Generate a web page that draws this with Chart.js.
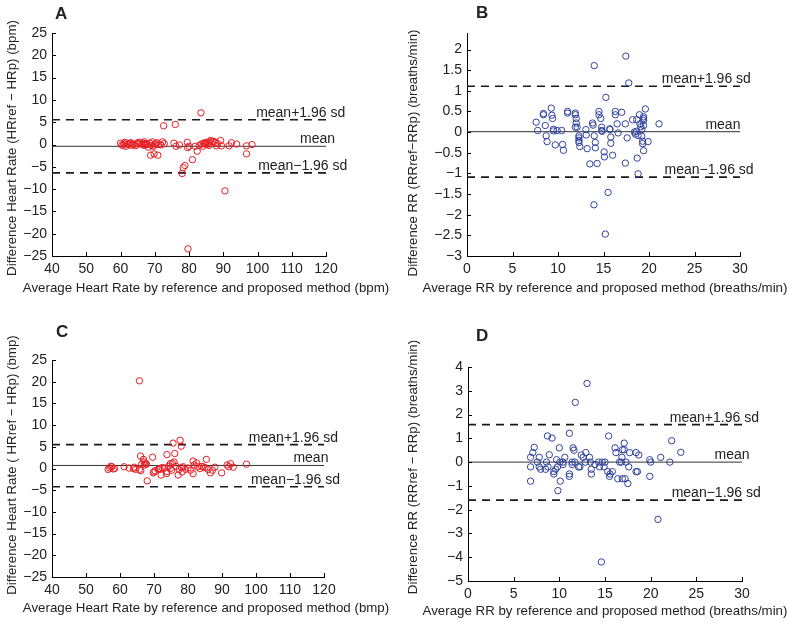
<!DOCTYPE html>
<html>
<head>
<meta charset="utf-8">
<script src="https://cdn.jsdelivr.net/npm/chart.js@4.4.0/dist/chart.umd.min.js"></script>
<style>
html, body { margin: 0; padding: 0; background: #fff; }
#wrap { position: relative; width: 796px; height: 622px; }
#wrap canvas { position: absolute; }
</style>
</head>
<body>
<div id="wrap">
  <canvas id="chartA" width="398" height="311" style="left:0;top:0"></canvas>
  <canvas id="chartB" width="398" height="311" style="left:398px;top:0"></canvas>
  <canvas id="chartC" width="398" height="311" style="left:0;top:311px"></canvas>
  <canvas id="chartD" width="398" height="311" style="left:398px;top:311px"></canvas>
</div>
<script>
var FONT = '"Liberation Sans", Arial, Helvetica, sans-serif';

// A: heart rate, [average, difference]
var hrPointsA = [[60.0,0.3],[60.4,-0.1],[60.8,-0.2],[61.0,0.2],[61.3,0.5],[61.6,-0.4],[62.0,0.1],[62.4,0.0],[62.8,0.3],[63.0,0.4],
  [63.2,-0.2],[63.6,0.1],[64.0,0.0],[64.4,-0.3],[64.8,0.2],[65.0,0.2],[65.3,0.5],[65.8,0.4],[66.2,0.0],[66.6,0.3],
  [66.9,0.6],[67.0,-0.2],[67.2,0.0],[67.4,0.2],[67.8,0.0],[68.2,-0.6],[68.6,0.3],[68.8,-2.4],[69.0,-0.2],[69.3,0.6],
  [69.6,-0.4],[69.8,-2.1],[70.0,-0.1],[70.2,0.2],[70.6,0.4],[70.9,-2.4],[71.2,0.0],[71.8,-0.1],[72.3,0.6],[72.6,4.2],
  [72.8,0.2],[75.6,0.3],[76.0,4.5],[76.2,-0.4],[77.2,-0.1],[78.0,-6.5],[78.3,-5.2],[78.8,-4.7],[79.5,0.5],[79.6,-0.7],
  [79.7,-23.4],[80.0,-0.4],[81.0,-3.4],[81.8,-0.4],[82.4,-1.5],[83.0,-0.2],[83.5,7.1],[83.6,0.1],[84.0,-0.4],[84.3,0.3],
  [84.6,0.2],[84.8,0.1],[85.0,0.5],[85.3,0.0],[85.6,0.4],[85.8,-0.2],[86.0,0.6],[86.3,0.9],[86.8,0.6],[87.3,0.7],
  [87.7,0.4],[88.0,-0.3],[88.4,0.2],[89.2,0.9],[89.5,-0.3],[90.5,-10.4],[91.7,-0.3],[92.4,0.4],[93.9,0.1],[96.8,-0.3],
  [96.8,-2.1],[98.4,0.0]];
var hrLimitsA = [-0.4, 5.55, -6.35];   // mean, mean+1.96sd, mean-1.96sd

// B: respiration rate
var rrPointsB = [[7.6,0.24],[7.76,0.04],[8.4,0.42],[8.4,0.45],[8.6,0.16],[8.7,-0.09],[8.8,-0.23],[9.26,0.58],[9.33,0.41],[9.4,0.33],
  [9.5,0.07],[9.5,0.03],[9.7,-0.31],[9.9,0.04],[10.4,0.04],[10.5,-0.3],[10.6,-0.44],[11.05,0.5],[11.05,0.46],[11.9,0.46],
  [11.9,0.42],[12.0,0.33],[12.0,0.22],[11.9,0.12],[12.1,0.12],[12.3,-0.09],[12.3,-0.14],[12.3,-0.2],[12.3,-0.25],[12.4,-0.35],
  [13.06,0.06],[13.1,-0.07],[13.2,-0.4],[13.5,-0.77],[13.8,0.22],[13.85,0.17],[13.98,1.61],[13.98,-0.09],[13.95,-1.76],[14.1,-0.25],
  [14.1,-0.38],[14.3,-0.76],[14.5,0.5],[14.5,0.42],[14.7,0.33],[14.8,0.12],[14.8,0.04],[14.85,0.02],[15.07,-0.48],[15.1,-0.6],
  [15.2,-2.47],[15.26,0.84],[15.5,-1.46],[15.7,0.08],[15.7,0.06],[15.8,-0.12],[15.8,-0.27],[16.0,-0.56],[16.3,0.5],[16.3,0.42],
  [16.5,0.2],[16.6,-0.02],[17.0,0.48],[17.4,0.2],[17.4,-0.75],[17.45,1.84],[17.6,-0.14],[17.78,1.19],[18.2,0.3],[18.4,0.0],
  [18.5,-0.05],[18.6,0.02],[18.66,0.3],[18.7,-0.63],[18.8,-1.01],[18.8,-0.08],[18.95,0.42],[19.0,0.2],[19.1,0.13],[19.2,0.06],
  [19.2,-0.1],[19.3,-0.22],[19.3,-0.28],[19.4,0.37],[19.4,0.33],[19.4,0.28],[19.4,0.16],[19.4,-0.45],[19.6,0.56],[19.9,-0.23],
  [21.1,0.2]];
var rrLimitsB = [0.01, 1.11, -1.09];

// C: heart rate, second data set
var hrPointsC = [[56.5,-0.2],[57.0,0.1],[57.3,0.5],[57.6,0.4],[58.0,-0.1],[58.4,0.0],[61.2,0.4],[62.7,0.1],[63.9,0.0],[64.2,0.3],
  [64.6,-0.2],[65.7,-0.2],[65.7,20.2],[66.05,2.85],[66.1,-0.5],[66.4,1.0],[66.9,2.1],[67.1,1.5],[67.3,0.8],[67.5,1.2],
  [67.8,1.0],[68.0,-2.85],[69.6,2.6],[69.8,-1.0],[70.0,-0.8],[70.3,-0.5],[71.3,-0.2],[71.5,0.0],[71.8,-0.1],[72.1,-1.5],
  [72.4,0.2],[73.0,0.1],[73.7,-1.2],[73.8,-0.7],[73.8,3.2],[74.3,0.5],[74.8,1.1],[74.8,0.0],[75.2,-0.4],[75.4,1.2],
  [75.6,5.85],[75.9,1.5],[76.1,3.45],[76.5,0.5],[77.1,-1.5],[77.4,-0.2],[77.7,6.5],[78.0,5.15],[78.1,0.2],[78.3,-0.8],
  [78.6,0.4],[79.3,-0.2],[80.0,0.1],[80.7,-0.4],[81.5,1.7],[81.5,-1.2],[81.8,0.8],[82.5,1.3],[82.8,0.4],[83.5,0.0],
  [84.0,0.5],[84.5,0.4],[85.0,0.2],[85.4,2.1],[85.9,-0.2],[86.6,-1.0],[87.2,-0.4],[87.9,0.3],[89.9,-1.0],[91.5,0.8],
  [92.0,0.4],[92.5,1.1],[93.3,0.3],[97.2,1.0]];
var hrLimitsC = [0.7, 5.5, -4.2];

// D: respiration rate, second data set
var rrPointsD = [[6.85,0.2],[6.85,-0.2],[6.85,-0.8],[7.1,0.4],[7.25,0.62],[7.6,0.0],[7.8,0.2],[7.8,-0.2],[7.95,-0.3],[8.5,-0.3],
  [8.6,0.0],[8.7,1.1],[8.75,-0.2],[8.9,0.31],[9.2,1.01],[9.4,-0.4],[9.4,-0.5],[9.6,-0.3],[9.7,0.1],[9.8,-0.2],
  [9.84,-1.2],[10.0,0.6],[10.06,0.0],[10.1,-0.8],[10.4,0.0],[10.4,-0.1],[10.6,0.2],[11.1,1.21],[11.1,-0.5],[11.1,-0.6],
  [11.4,-0.1],[11.4,0.0],[11.5,0.6],[11.6,0.5],[11.7,0.0],[11.75,2.51],[12.1,-0.2],[12.25,-0.2],[12.4,0.3],[12.6,0.2],
  [12.85,0.0],[12.9,0.4],[13.03,3.31],[13.3,0.2],[13.4,0.0],[13.5,-0.3],[13.5,-0.5],[13.9,-0.1],[14.3,0.0],[14.4,-0.2],
  [14.6,-4.2],[14.7,0.0],[14.9,-0.2],[15.0,0.0],[15.3,-0.4],[15.4,1.1],[15.5,-0.6],[15.55,-0.5],[15.8,-0.4],[16.1,0.6],
  [16.2,0.4],[16.4,-0.7],[16.6,0.0],[16.8,0.0],[16.85,0.2],[16.9,-0.7],[16.9,0.52],[17.1,0.8],[17.1,0.52],[17.2,-0.7],
  [17.3,0.0],[17.5,-0.9],[17.6,-0.2],[17.7,0.4],[18.4,0.4],[18.4,-0.4],[18.55,-0.4],[18.7,0.3],[19.9,0.1],[19.9,-0.6],
  [20.0,0.0],[20.8,-2.41],[21.1,0.2],[22.1,0.0],[22.3,0.9],[23.3,0.41]];
var rrLimitsD = [0.0, 1.58, -1.6];

// axis ticks
var hrXTicks = [40, 50, 60, 70, 80, 90, 100, 110, 120];
var hrYTicks = [-25, -20, -15, -10, -5, 0, 5, 10, 15, 20, 25];
var rrXTicks = [0, 5, 10, 15, 20, 25, 30];
var rrYTicksB = [-3, -2.5, -2, -1.5, -1, -0.5, 0, 0.5, 1, 1.5, 2];
var rrYTicksD = [-5, -4, -3, -2, -1, 0, 1, 2, 3, 4];

var limitLabels = ['mean', 'mean+1.96 sd', 'mean\u22121.96 sd'];

var toXY = function (pts) {
    return pts.map(function (p) { return { x: p[0], y: p[1] }; });
};

var minusSign = function (v) {
    return String(v).replace('-', '\u2212');
};

var makePanel = function (id, p) {
    var W = 398, H = 311;
    var hline = function (y, dashed) {
        return {
            type: 'line', showLine: true, data: [{ x: p.xRange[0], y: y }, { x: p.xRange[1], y: y }],
            borderColor: dashed ? '#1a1a1a' : '#333', borderWidth: dashed ? 1.7 : 1,
            borderDash: dashed ? [8, 6] : [], pointRadius: 0, fill: false
        };
    };

    // tick marks point inwards, plus the texts
    var decor = {
        id: 'decor',
        afterDraw: function (chart) {
            var ctx = chart.ctx, xs = chart.scales.x, ys = chart.scales.y;
            ctx.save();
            ctx.strokeStyle = '#000';
            ctx.lineWidth = 1;
            ctx.beginPath();
            xs.ticks.forEach(function (t) {
                var px = Math.round(xs.getPixelForValue(t.value)) + 0.5;
                ctx.moveTo(px, ys.bottom);
                ctx.lineTo(px, ys.bottom - 4);
            });
            ys.ticks.forEach(function (t) {
                var py = Math.round(ys.getPixelForValue(t.value)) + 0.5;
                ctx.moveTo(xs.left, py);
                ctx.lineTo(xs.left + 4, py);
            });
            ctx.stroke();

            ctx.fillStyle = '#222';
            ctx.font = '14px ' + FONT;
            ctx.textAlign = 'left';
            ctx.textBaseline = 'alphabetic';
            for (var i = 0; i < 3; i++) {
                ctx.fillText(limitLabels[i], xs.getPixelForValue(p.labelX[i]), ys.getPixelForValue(p.limits[i]) - 3);
            }

            ctx.font = 'bold 17px ' + FONT;
            ctx.fillText(p.letter, p.letterAt[0], p.letterAt[1]);

            ctx.font = '13.3px ' + FONT;
            ctx.textAlign = 'center';
            ctx.fillText(p.xTitle, p.xTitleAt[0], p.xTitleAt[1]);

            ctx.translate(p.yTitleAt[0], p.yTitleAt[1]);
            ctx.rotate(-Math.PI / 2);
            ctx.textBaseline = 'middle';
            ctx.fillText(p.yTitle, 0, 0);
            ctx.restore();
        }
    };

    var tickFont = { family: FONT, size: 14 };

    return new Chart(document.getElementById(id), {
        type: 'scatter',
        data: {
            datasets: [
                {
                    data: toXY(p.points), borderColor: p.color, backgroundColor: 'rgba(0,0,0,0)',
                    borderWidth: 1, pointRadius: 3.2, pointHoverRadius: 3.2
                },
                hline(p.limits[0], false),
                hline(p.limits[1], true),
                hline(p.limits[2], true)
            ]
        },
        options: {
            responsive: false,
            animation: false,
            events: [],
            layout: { padding: { left: 0, top: p.area[1], right: W - p.area[2], bottom: 0 } },
            plugins: { legend: { display: false }, tooltip: { enabled: false } },
            scales: {
                x: {
                    type: 'linear', min: p.xRange[0], max: p.xRange[1],
                    afterBuildTicks: function (s) { s.ticks = p.xTicks.map(function (v) { return { value: v }; }); },
                    afterFit: function (s) { s.height = H - p.area[3]; },
                    grid: { display: true, drawOnChartArea: false, drawTicks: false },
                    border: { display: true, color: '#000', width: 1 },
                    ticks: { font: tickFont, color: '#222', padding: 5, maxRotation: 0, autoSkip: false, callback: minusSign }
                },
                y: {
                    type: 'linear', min: p.yRange[0], max: p.yRange[1],
                    afterBuildTicks: function (s) { s.ticks = p.yTicks.map(function (v) { return { value: v }; }); },
                    afterFit: function (s) { s.width = p.area[0]; },
                    grid: { display: true, drawOnChartArea: false, drawTicks: false },
                    border: { display: true, color: '#000', width: 1 },
                    ticks: { font: tickFont, color: '#222', padding: 5, autoSkip: false, callback: minusSign }
                }
            }
        },
        plugins: [decor]
    });
};

makePanel('chartA', {
    points: hrPointsA, limits: hrLimitsA, color: 'rgb(232,28,34)',
    xRange: [40, 120], yRange: [-25, 25], xTicks: hrXTicks, yTicks: hrYTicks,
    area: [52, 33, 326, 256], labelX: [112.4, 99.6, 100.2],
    letter: 'A', letterAt: [55, 19],
    xTitle: 'Average Heart Rate by reference and proposed method (bpm)', xTitleAt: [206, 292],
    yTitle: 'Difference Heart Rate (HRref \u2212 HRp) (bpm)', yTitleAt: [12, 148]
});

makePanel('chartB', {
    points: rrPointsB, limits: rrLimitsB, color: 'rgb(48,66,156)',
    xRange: [0, 30], yRange: [-3, 2.4], xTicks: rrXTicks, yTicks: rrYTicksB,
    area: [69, 33, 342, 256], labelX: [26.2, 21.4, 21.7],
    letter: 'B', letterAt: [78, 18],
    xTitle: 'Average RR by reference and proposed method (breaths/min)', xTitleAt: [207, 292],
    yTitle: 'Difference RR (RRref\u2212RRp) (breaths/min)', yTitleAt: [15, 153]
});

makePanel('chartC', {
    points: hrPointsC, limits: hrLimitsC, color: 'rgb(232,28,34)',
    xRange: [40, 120], yRange: [-25, 25], xTicks: hrXTicks, yTicks: hrYTicks,
    area: [52, 49, 324, 266], labelX: [111, 97.9, 98.5],
    letter: 'C', letterAt: [56, 26],
    xTitle: 'Average Heart Rate by reference and proposed method (bmp)', xTitleAt: [206, 301],
    yTitle: 'Difference Heart Rate ( HRref \u2212 HRp) (bmp)', yTitleAt: [12, 154]
});

makePanel('chartD', {
    points: rrPointsD, limits: rrLimitsD, color: 'rgb(48,66,156)',
    xRange: [0, 30], yRange: [-5, 4], xTicks: rrXTicks, yTicks: rrYTicksD,
    area: [70, 56, 344, 270], labelX: [27, 22.1, 22.3],
    letter: 'D', letterAt: [78, 30],
    xTitle: 'Average RR by reference and proposed method (breaths/min)', xTitleAt: [207, 304],
    yTitle: 'Difference RR (RRref \u2212 RRp) (breaths/min)', yTitleAt: [15, 156]
});
</script>
</body>
</html>
